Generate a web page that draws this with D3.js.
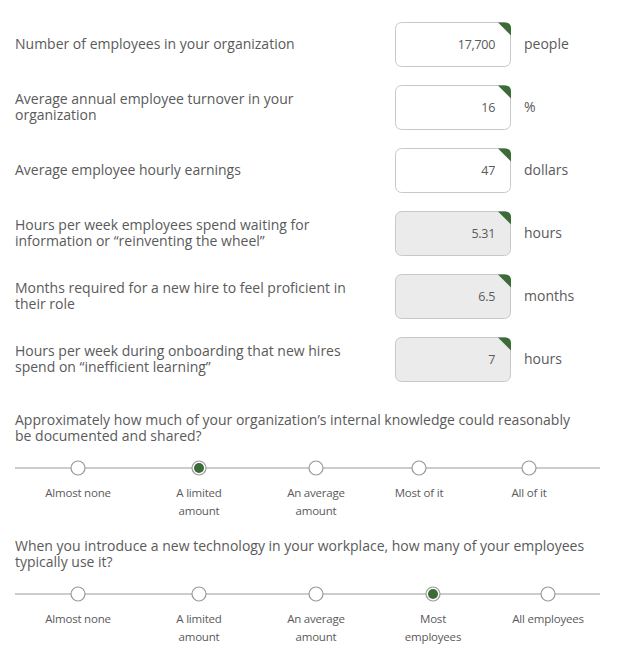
<!DOCTYPE html>
<html><head><meta charset="utf-8">
<script src="https://cdn.jsdelivr.net/npm/d3@7"></script>
<style>body{margin:0;background:#fff}text{font-family:"Open Sans",sans-serif;fill:#5a5a5a}</style>
</head><body>
<script>
// input rows
var rowLabels = [
  ["Number of employees in your organization"],
  ["Average annual employee turnover in your", "organization"],
  ["Average employee hourly earnings"],
  ["Hours per week employees spend waiting for", "information or \u201creinventing the wheel\u201d"],
  ["Months required for a new hire to feel proficient in", "their role"],
  ["Hours per week during onboarding that new hires", "spend on \u201cinefficient learning\u201d"]
];
var rowValues = ["17,700", "16", "47", "5.31", "6.5", "7"];
var rowUnits = ["people", "%", "dollars", "hours", "months", "hours"];
var rowComputed = [false, false, false, true, true, true];

// sliders
var q1Text = ["Approximately how much of your organization\u2019s internal knowledge could reasonably", "be documented and shared?"];
var q1Options = [["Almost none"], ["A limited", "amount"], ["An average", "amount"], ["Most of it"], ["All of it"]];
var q1Selected = 1;
var q2Text = ["When you introduce a new technology in your workplace, how many of your employees", "typically use it?"];
var q2Options = [["Almost none"], ["A limited", "amount"], ["An average", "amount"], ["Most", "employees"], ["All employees"]];
var q2Selected = 3;

var width = 617, height = 657;
var svg = d3.select('body').append('svg').attr('width', width).attr('height', height);

let y = d3.scalePoint().domain(d3.range(rowLabels.length)).range([44.5, 359.5]);

let rows = svg.selectAll('g.row').data(rowLabels).enter().append('g')
  .attr('transform', (d, i) => 'translate(0,' + y(i) + ')');

rows.each(function(d, i) {
  let g = d3.select(this);
  let off = d.length == 1 ? 0 : -8;
  d.forEach((line, j) => {
    g.append('text').attr('x', 15).attr('y', off + j * 16).attr('dy', '0.35em')
      .attr('font-size', 14).text(line);
  });
  g.append('rect').attr('x', 395.5).attr('y', -22).attr('width', 115).attr('height', 44).attr('rx', 6)
    .attr('fill', rowComputed[i] ? '#ebebeb' : '#fff').attr('stroke', '#c8c8c8');
  g.append('path').attr('d', 'M498,-22 L505,-22 Q511,-22 511,-16 L511,-9 Z').attr('fill', '#3b6b36');
  g.append('text').attr('x', 495).attr('y', 0).attr('dy', '0.35em').attr('text-anchor', 'end')
    .attr('font-size', 12.5).attr('letter-spacing', -0.3).text(rowValues[i]);
  g.append('text').attr('x', 524).attr('y', 0).attr('dy', '0.35em')
    .attr('font-size', 14).text(rowUnits[i]);
});

function slider(top, text, options, selected, xs) {
  let g = svg.append('g').attr('transform', 'translate(0,' + top + ')');
  text.forEach((t, j) => g.append('text').attr('x', 15).attr('y', j * 16).attr('dy', '0.35em')
    .attr('font-size', 14).text(t));
  let x = d3.scaleOrdinal().domain(d3.range(options.length)).range(xs);
  g.append('line').attr('x1', 15).attr('x2', 600).attr('y1', 48).attr('y2', 48).attr('stroke', '#999');
  let opt = g.selectAll('g.opt').data(options).enter().append('g')
    .attr('transform', (d, i) => 'translate(' + x(i) + ',48)');
  opt.append('circle').attr('r', 7).attr('fill', '#fff').attr('stroke', '#999').attr('stroke-width', 1.2);
  opt.filter((d, i) => i == selected).append('circle').attr('r', 5).attr('fill', '#3b6b36');
  opt.each(function(d) {
    d.forEach((t, j) => d3.select(this).append('text').attr('y', 25 + j * 18).attr('dy', '0.35em')
      .attr('text-anchor', 'middle').attr('font-size', 11.5).attr('letter-spacing', -0.2).text(t));
  });
}
slider(420, q1Text, q1Options, q1Selected, [78, 199, 316, 419, 529]);
slider(546, q2Text, q2Options, q2Selected, [78, 199, 316, 433, 548]);
</script>
</body></html>
